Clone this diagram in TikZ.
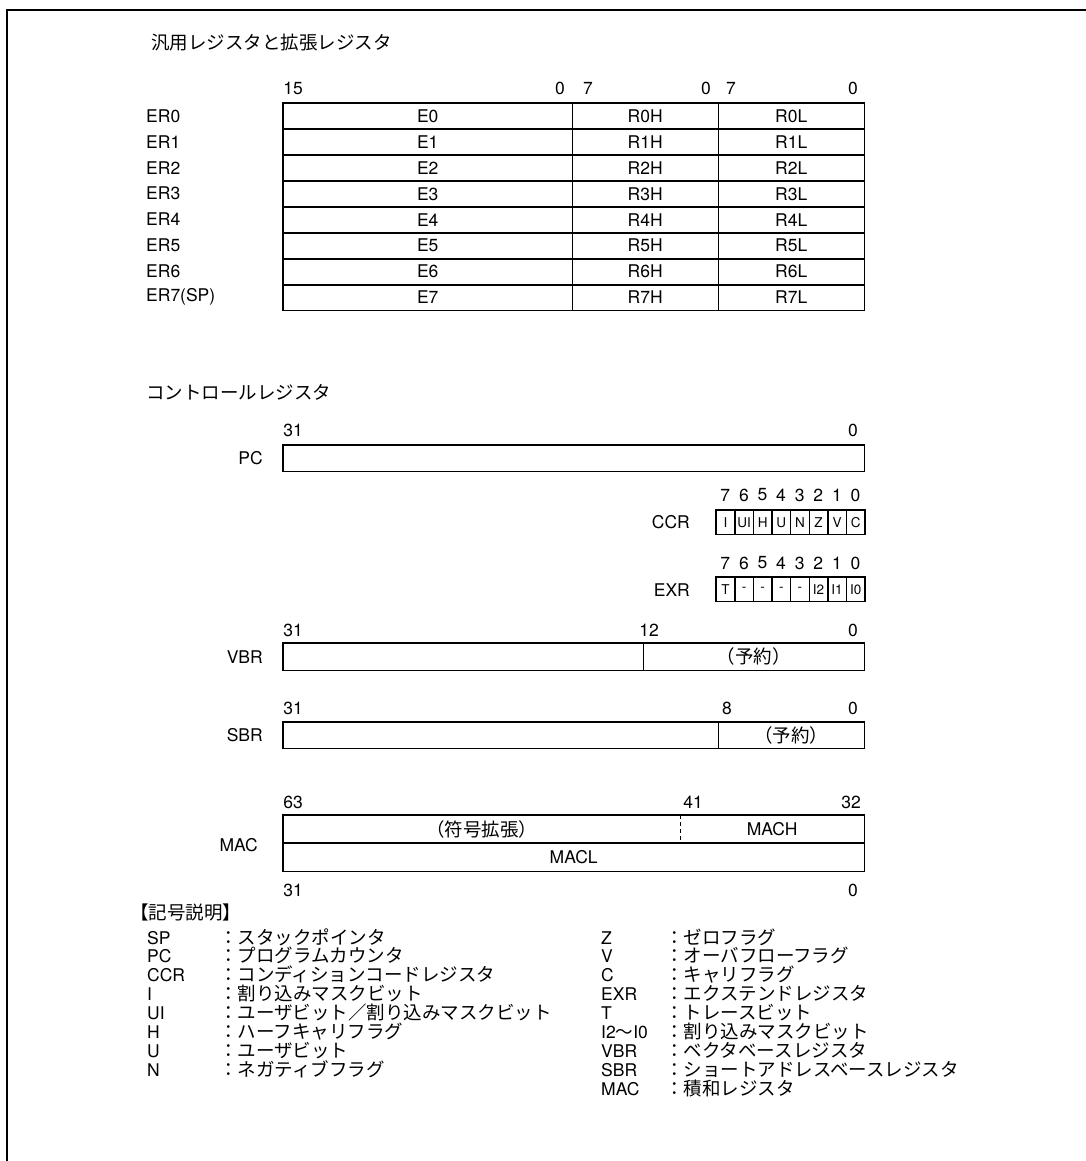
\documentclass[tikz,border=0pt]{standalone}
\usepackage{fontspec}
\setmainfont{TeX Gyre Heros}
\newfontfamily\jp{Noto Sans CJK JP}
\begin{document}
\begin{tikzpicture}[x=1pt,y=-1pt,
  lat/.style={font=\fontsize{17.5}{19}\selectfont, inner sep=0pt},
  jpt/.style={font=\jp\fontsize{18.5}{20}\selectfont, inner sep=0pt},
  bitf/.style={font=\fontsize{13.5}{14}\selectfont, inner sep=0pt},
  cellbox/.style={font=\fontsize{17.5}{19}\selectfont, inner sep=0pt, minimum height=25.9, anchor=north west},
  fieldbox/.style={inner sep=0pt, anchor=north west},
  heavy/.style={line width=1.7pt},
  light/.style={line width=0.8pt},
]
\useasboundingbox (0,0) rectangle (1086,1161);
\fill[white] (0,0) rectangle (1086,1161);
\draw[line width=2.4pt] (7,1161) -- (7,10) -- (1086,10);

% ---------- general registers ----------
\node[jpt, anchor=west] (title1) at (151,43) {汎用レジスタと拡張レジスタ};

\node[lat] (t15) at (293,88) {15};
\node[lat] (t0a) at (560,88) {0};
\node[lat] (t7a) at (588,88) {7};
\node[lat] (t0b) at (706,88) {0};
\node[lat] (t7b) at (731,88) {7};
\node[lat] (t0c) at (853,88) {0};

\foreach \i/\n in {0/ER0,1/ER1,2/ER2,3/ER3,4/ER4,5/ER5,6/ER6,7/ER7(SP)} {
  \pgfmathsetmacro\tp{103+25.9*\i}
  \pgfmathsetmacro\cy{103+25.9*\i+12.95}
  \node[lat, anchor=west] (lab\i) at (146,\cy) {\n};
  \node[cellbox, minimum width=289] (e\i) at (283,\tp) {E\i};
  \node[cellbox, minimum width=146] (h\i) at (572,\tp) {R\i H};
  \node[cellbox, minimum width=146] (l\i) at (718,\tp) {R\i L};
}
\draw[light] (e0.north east) -- (e7.south east);
\draw[light] (h0.north east) -- (h7.south east);
\foreach \i in {0,...,6} { \draw[heavy] (e\i.south west) -- (l\i.south east); }
\draw[heavy] (e0.north west) rectangle (l7.south east);

% ---------- control registers ----------
\node[jpt, anchor=west] (title2) at (146,392) {コントロールレジスタ};

% PC
\node[lat] (pc31) at (293,430) {31};
\node[lat] (pc0) at (853,430) {0};
\node[lat, anchor=east] (pclab) at (263,458) {PC};
\node[fieldbox, minimum width=581, minimum height=26] (pc) at (283,445) {};
\draw[heavy] (pc.north west) rectangle (pc.south east);

% CCR
\node[lat, anchor=east] (ccrlab) at (690,522) {CCR};
\foreach \j/\t in {0/I,1/UI,2/H,3/U,4/N,5/Z,6/V,7/C} {
  \pgfmathsetmacro\cx{716+18.6*\j}
  \pgfmathsetmacro\dx{716+18.6*\j+9.3}
  \pgfmathtruncatemacro\bn{7-\j}
  \node[lat] (ccrb\j) at (\dx,495) {\bn};
  \node[fieldbox, bitf, minimum width=18.6, minimum height=24] (ccr\j) at (\cx,510) {\t};
  \draw[light] (ccr\j.north west) rectangle (ccr\j.south east);
}
\draw[heavy] (ccr0.north west) rectangle (ccr7.south east);

% EXR
\node[lat, anchor=east] (exrlab) at (690,590) {EXR};
\foreach \j/\t in {0/T,1/-,2/-,3/-,4/-,5/I2,6/I1,7/I0} {
  \pgfmathsetmacro\cx{716+18.6*\j}
  \pgfmathsetmacro\dx{716+18.6*\j+9.3}
  \pgfmathtruncatemacro\bn{7-\j}
  \node[lat] (exrb\j) at (\dx,563) {\bn};
  \node[fieldbox, bitf, minimum width=18.6, minimum height=24] (exr\j) at (\cx,577) {\t};
  \draw[light] (exr\j.north west) rectangle (exr\j.south east);
}
\draw[heavy] (exr0.north west) rectangle (exr7.south east);

% VBR
\node[lat] (v31) at (293,630) {31};
\node[lat] (v12) at (649,630) {12};
\node[lat] (v0) at (853,630) {0};
\node[lat, anchor=east] (vbrlab) at (263,657) {VBR};
\node[fieldbox, minimum width=360, minimum height=27] (vbrh) at (283,643) {};
\node[fieldbox, jpt, minimum width=221, minimum height=27] (vbrl) at (643,643) {（予約）};
\draw[light] (vbrl.north west) -- (vbrl.south west);
\draw[heavy] (vbrh.north west) rectangle (vbrl.south east);

% SBR
\node[lat] (s31) at (293,708) {31};
\node[lat] (s8) at (727,708) {8};
\node[lat] (s0) at (853,708) {0};
\node[lat, anchor=east] (sbrlab) at (263,735) {SBR};
\node[fieldbox, minimum width=435, minimum height=26] (sbrh) at (283,722) {};
\node[fieldbox, jpt, minimum width=146, minimum height=26] (sbrl) at (718,722) {（予約）};
\draw[light] (sbrl.north west) -- (sbrl.south west);
\draw[heavy] (sbrh.north west) rectangle (sbrl.south east);

% MAC
\node[lat] (m63) at (293,802) {63};
\node[lat] (m41) at (693,802) {41};
\node[lat] (m32) at (851,802) {32};
\node[lat] (m31) at (293,890) {31};
\node[lat] (m0) at (853,890) {0};
\node[lat, anchor=east] (maclab) at (258,845) {MAC};
\node[fieldbox, jpt, minimum width=397, minimum height=28] (macs) at (283,815) {（符号拡張）};
\node[fieldbox, lat, minimum width=184, minimum height=28] (mach) at (680,815) {MACH};
\node[fieldbox, lat, minimum width=581, minimum height=28] (macl) at (283,843) {MACL};
\draw[light, dash pattern=on 4pt off 3pt] (mach.north west) -- (mach.south west);
\draw[heavy] (macl.north west) -- (macl.north east);
\draw[heavy] (macs.north west) rectangle (macl.south east);

% ---------- legend ----------
\node[jpt, anchor=west] (legtitle) at (130,912) {【記号説明】};

\foreach \k/\a/\d in {0/SP/スタックポインタ,1/PC/プログラムカウンタ,2/CCR/コンディションコードレジスタ,3/I/割り込みマスクビット,4/UI/ユーザビット／割り込みマスクビット,5/H/ハーフキャリフラグ,6/U/ユーザビット,7/N/ネガティブフラグ} {
  \pgfmathsetmacro\by{944+18.95*\k}
  \node[lat, anchor=base west] (la\k) at (147,\by) {\a};
  \node[jpt, anchor=base west] (ld\k) at (219,\by) {：\d};
}
\foreach \k/\a/\d in {0/Z/ゼロフラグ,1/V/オーバフローフラグ,2/C/キャリフラグ,3/EXR/エクステンドレジスタ,4/T/トレースビット,5/{I2{\jp 〜}I0}/割り込みマスクビット,6/VBR/ベクタベースレジスタ,7/SBR/ショートアドレスベースレジスタ,8/MAC/積和レジスタ} {
  \pgfmathsetmacro\by{944+18.95*\k}
  \node[lat, anchor=base west] (ra\k) at (601,\by) {\a};
  \node[jpt, anchor=base west] (rd\k) at (665,\by) {：\d};
}
\end{tikzpicture}
\end{document}
